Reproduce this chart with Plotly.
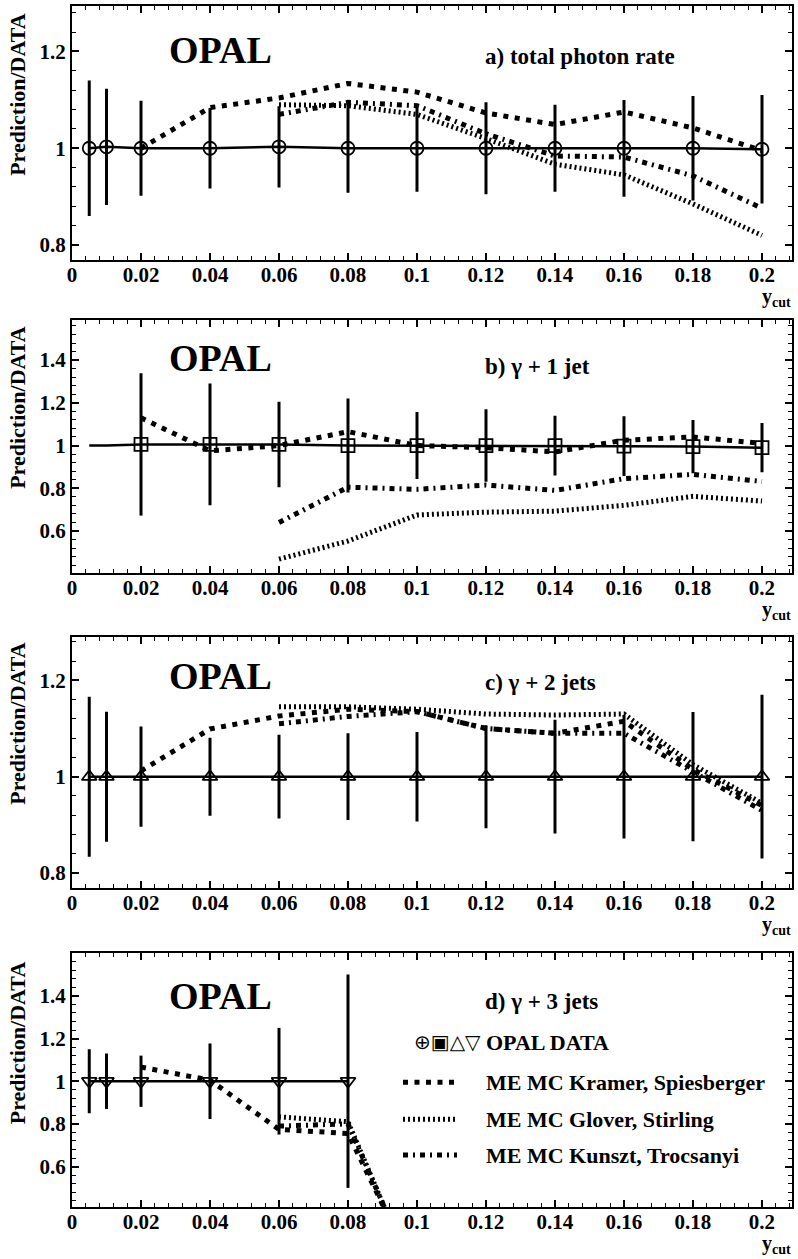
import plotly.graph_objects as go

# ---------------- data ----------------
ycut_full = [0.005, 0.01, 0.02, 0.04, 0.06, 0.08, 0.1, 0.12, 0.14, 0.16, 0.18, 0.2]
ycut_002 = [0.02, 0.04, 0.06, 0.08, 0.1, 0.12, 0.14, 0.16, 0.18, 0.2]
ycut_006 = [0.06, 0.08, 0.1, 0.12, 0.14, 0.16, 0.18, 0.2]

# a) total photon rate
data_a = [1.0, 1.003, 1.0, 1.0, 1.003, 1.0, 1.0, 1.0, 1.0, 1.0, 1.0, 0.998]
err_a = [0.14, 0.12, 0.098, 0.083, 0.084, 0.092, 0.09, 0.095, 0.09, 0.1, 0.108, 0.112]
kramer_a = [1.0, 1.084, 1.104, 1.134, 1.116, 1.073, 1.049, 1.075, 1.042, 0.995]
glover_a = [1.09, 1.088, 1.07, 1.02, 0.967, 0.945, 0.885, 0.82]
kunszt_a = [1.07, 1.095, 1.088, 1.03, 0.984, 0.982, 0.943, 0.876]

# b) gamma + 1 jet
line_x_b = [0.005, 0.01] + ycut_002
data_b = [1.005, 1.005, 1.005, 1.0, 1.0, 1.0, 1.0, 0.997, 0.995, 0.99]
line_y_b = [1.0, 1.0] + data_b
err_b = [0.333, 0.285, 0.2, 0.22, 0.157, 0.17, 0.14, 0.14, 0.125, 0.115]
kramer_b = [1.13, 0.975, 1.0, 1.065, 1.0, 0.99, 0.97, 1.025, 1.04, 1.01]
glover_b = [0.468, 0.553, 0.675, 0.688, 0.693, 0.72, 0.762, 0.74]
kunszt_b = [0.64, 0.805, 0.795, 0.815, 0.79, 0.845, 0.865, 0.832]

# c) gamma + 2 jets
data_c = [1.0] * 12
err_c = [0.166, 0.135, 0.104, 0.081, 0.087, 0.09, 0.093, 0.107, 0.118, 0.128, 0.134, 0.17]
kramer_c = [1.012, 1.099, 1.126, 1.14, 1.135, 1.1, 1.09, 1.115, 1.015, 0.94]
glover_c = [1.145, 1.145, 1.14, 1.13, 1.128, 1.13, 1.025, 0.945]
kunszt_c = [1.11, 1.125, 1.135, 1.1, 1.09, 1.09, 1.01, 0.93]

# d) gamma + 3 jets
ycut_d = [0.005, 0.01, 0.02, 0.04, 0.06, 0.08]
data_d = [1.0] * 6
err_d = [0.15, 0.13, 0.12, 0.177, 0.25, 0.5]
ycut_kramer_d = [0.02, 0.04, 0.06, 0.08, 0.1]
kramer_d = [1.066, 1.005, 0.774, 0.755, 0.09]
ycut_model_d = [0.06, 0.08, 0.1]
glover_d = [0.833, 0.81, 0.05]
kunszt_d = [0.79, 0.8, 0.06]

panel_labels = ["a) total photon rate", "b) \u03b3 + 1 jet", "c) \u03b3 + 2 jets", "d) \u03b3 + 3 jets"]
legend_labels = ["OPAL DATA", "ME MC Kramer, Spiesberger", "ME MC Glover, Stirling", "ME MC Kunszt, Trocsanyi"]

# ---------------- styles ----------------
FONT = "Liberation Serif"
K_LINE = dict(color="black", width=5, dash="5px,6.5px")
G_LINE = dict(color="black", width=5, dash="2px,3px")
T_LINE = dict(color="black", width=5, dash="5px,5px,2px,5px")

fig = go.Figure()

panels = [
    dict(x=ycut_full, y=data_a, e=err_a, lx=ycut_full, ly=data_a, sym="circle-open",
         models=[(ycut_002, kramer_a, K_LINE), (ycut_006, glover_a, G_LINE), (ycut_006, kunszt_a, T_LINE)]),
    dict(x=ycut_002, y=data_b, e=err_b, lx=line_x_b, ly=line_y_b, sym="square-open",
         models=[(ycut_002, kramer_b, K_LINE), (ycut_006, glover_b, G_LINE), (ycut_006, kunszt_b, T_LINE)]),
    dict(x=ycut_full, y=data_c, e=err_c, lx=ycut_full, ly=data_c, sym="triangle-up-open",
         models=[(ycut_002, kramer_c, K_LINE), (ycut_006, glover_c, G_LINE), (ycut_006, kunszt_c, T_LINE)]),
    dict(x=ycut_d, y=data_d, e=err_d, lx=ycut_d, ly=data_d, sym="triangle-down-open",
         models=[(ycut_kramer_d, kramer_d, K_LINE), (ycut_model_d, glover_d, G_LINE), (ycut_model_d, kunszt_d, T_LINE)]),
]

for i, p in enumerate(panels):
    ax = "" if i == 0 else str(i + 1)
    xa, ya = "x" + ax, "y" + ax
    for mx, my, ls in p["models"]:
        fig.add_trace(go.Scatter(x=mx, y=my, mode="lines", line=ls, xaxis=xa, yaxis=ya,
                                 showlegend=False, hoverinfo="skip"))
    fig.add_trace(go.Scatter(x=p["lx"], y=p["ly"], mode="lines", line=dict(color="black", width=2.5),
                             xaxis=xa, yaxis=ya, showlegend=False))
    fig.add_trace(go.Scatter(x=p["x"], y=p["y"], mode="markers",
                             marker=dict(symbol=p["sym"], size=13, color="black", line=dict(width=1.8, color="black")),
                             error_y=dict(type="data", array=p["e"], visible=True, color="black", thickness=3, width=0),
                             xaxis=xa, yaxis=ya, showlegend=False))

# ---------------- layout ----------------
W, H = 798, 1259
mt, mb, ml, mr = 4, 52, 72, 6
plot_h = H - mt - mb

def frac(py):
    return (H - mb - py) / plot_h

def px_x(px):
    return (px - ml) / (W - ml - mr)

panel_px = [(4, 258), (319, 572), (636, 887), (953, 1207)]
yranges = [[0.77, 1.294], [0.403, 1.5855], [0.77, 1.29], [0.4105, 1.599]]

tickfont = dict(family=FONT, size=21, color="black", weight="bold")
layout = dict(width=W, height=H, margin=dict(l=ml, r=mr, t=mt, b=mb),
              paper_bgcolor="white", plot_bgcolor="white", showlegend=False)

for i in range(4):
    ax = "" if i == 0 else str(i + 1)
    top, bot = panel_px[i]
    layout["xaxis" + ax] = dict(
        domain=[0, 1], anchor="y" + ax, range=[0, 0.2087], tick0=0, dtick=0.02,
        ticks="inside", ticklen=7, tickwidth=1.5, tickcolor="black",
        showline=True, linecolor="black", linewidth=2, mirror="allticks",
        showgrid=False, zeroline=False, tickfont=tickfont, ticklabelstandoff=-5,
        minor=dict(dtick=0.004, tick0=0, ticks="inside", ticklen=4, tickwidth=1.2, tickcolor="black", showgrid=False))
    layout["yaxis" + ax] = dict(
        domain=[frac(bot), frac(top)], anchor="x" + ax, range=yranges[i], tick0=0, dtick=0.2,
        ticks="inside", ticklen=7, tickwidth=1.5, tickcolor="black",
        showline=True, linecolor="black", linewidth=2, mirror="allticks",
        showgrid=False, zeroline=False, tickfont=tickfont,
        minor=dict(dtick=0.04, tick0=0, ticks="inside", ticklen=4, tickwidth=1.2, tickcolor="black", showgrid=False))

fig.update_layout(**layout)

ann = []
opal_y = [1.204, 1.409, 1.209, 1.4]
label_y = [1.19, 1.37, 1.195, 1.376]
title_center = [92.5, 406, 722.5, 1042.5]
for i in range(4):
    ax = "" if i == 0 else str(i + 1)
    top, bot = panel_px[i]
    ann.append(dict(x=0.043, y=opal_y[i], xref="x" + ax, yref="y" + ax, text="OPAL", showarrow=False,
                    xanchor="center", yanchor="middle",
                    font=dict(family=FONT, size=38, color="black", weight="bold")))
    ann.append(dict(x=0.1192, y=label_y[i], xref="x" + ax, yref="y" + ax, text=panel_labels[i], showarrow=False,
                    xanchor="left", yanchor="middle",
                    font=dict(family=FONT, size=23, color="black", weight="bold")))
    ann.append(dict(x=px_x(17.5), y=frac(title_center[i]), xref="paper", yref="paper",
                    text="Prediction/DATA", textangle=-90, showarrow=False, xanchor="center", yanchor="middle",
                    font=dict(family=FONT, size=22, color="black", weight="bold")))
    ann.append(dict(x=px_x(760), y=frac(bot + 38), xref="paper", yref="paper",
                    text="y<sub>cut</sub>", showarrow=False, xanchor="left", yanchor="middle",
                    font=dict(family=FONT, size=20, color="black", weight="bold")))

# legend (panel d)
rows_y = [1042, 1082, 1119, 1155]
for j, lab in enumerate(legend_labels):
    ann.append(dict(x=px_x(484), y=frac(rows_y[j]), xref="paper", yref="paper", text=lab, showarrow=False,
                    xanchor="left", yanchor="middle",
                    font=dict(family=FONT, size=22, color="black", weight="bold")))
ann.append(dict(x=px_x(447), y=frac(rows_y[0]), xref="paper", yref="paper", text="\u2295\u25a3\u25b3\u25bd",
                showarrow=False, xanchor="center", yanchor="middle",
                font=dict(family="DejaVu Sans", size=20, color="black")))

shapes = []
for j, ls in enumerate([K_LINE, G_LINE, T_LINE]):
    yy = frac(rows_y[j + 1])
    shapes.append(dict(type="line", xref="paper", yref="paper", x0=px_x(403), x1=px_x(457), y0=yy, y1=yy,
                       line=dict(color="black", width=ls["width"], dash=ls["dash"])))

fig.update_layout(annotations=ann, shapes=shapes)
fig.write_html("out.html", config={"displayModeBar": False},
               post_script="document.body.style.margin='0px';document.body.style.overflow='hidden';")
